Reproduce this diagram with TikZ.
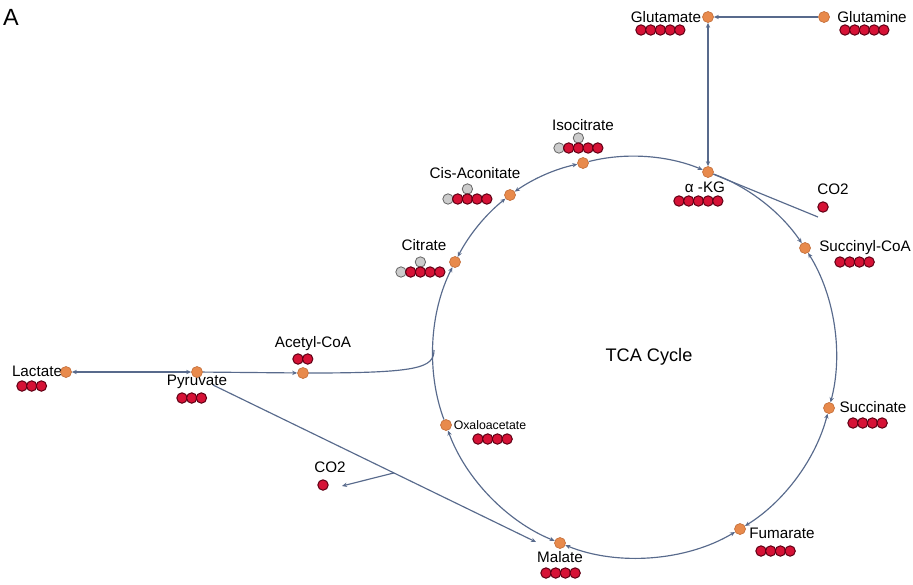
\documentclass[tikz,border=0pt]{standalone}
\usepackage{fontspec}
\setmainfont{Liberation Sans}
\usepackage{xcolor}
\usepackage{tikz}
\usetikzlibrary{arrows.meta,calc}

\definecolor{flow}{RGB}{88,106,140}
\definecolor{morange}{RGB}{232,138,76}
\definecolor{medge}{RGB}{196,112,60}
\definecolor{cred}{RGB}{214,18,54}
\definecolor{credge}{RGB}{95,0,20}
\definecolor{cgrey}{RGB}{204,204,204}
\definecolor{cgedge}{RGB}{105,105,105}

\tikzset{
  met/.style={circle, fill=morange, draw=medge, line width=0.2mm, inner sep=0pt, minimum size=3.3mm},
  lbl/.style={font=\fontsize{13}{15}\selectfont, inner sep=0pt},
  carbon/.style={fill=cred, draw=credge, line width=0.3mm},
  unlab/.style={fill=cgrey, draw=cgedge, line width=0.25mm},
  plain/.style={draw=flow, line width=0.35mm},
  rx/.style={plain, -{Stealth[length=1.5mm,width=1.3mm]}},
  rev/.style={plain, {Stealth[length=1.5mm,width=1.3mm]}-{Stealth[length=1.5mm,width=1.3mm]}},
  cyc/.style={bend left=#1, looseness=0.85}
}

% row of labelled carbons: first x, y, count
\newcommand{\carbons}[3]{\foreach \k in {1,...,#3}{\draw[carbon] (#1+\k*9.7-9.7,#2) circle[radius=5.2];}}

\begin{document}
\begin{tikzpicture}[x=0.3mm, y=0.3mm]
\useasboundingbox (0,0) rectangle (913,-584);

\node[font=\fontsize{20}{22}\selectfont, inner sep=0pt] (Panel) at (11,-17) {A};
\node[lbl, font=\fontsize{15.5}{18}\selectfont] (TCA) at (649,-357) {TCA Cycle};

% labels
\node[lbl] (tGlu) at (666,-17) {Glutamate};
\node[lbl] (tGln) at (872,-17) {Glutamine};
\node[lbl] (tAKG) at (705,-187) {α -KG};
\node[lbl] (tCO2a) at (833,-189) {CO2};
\node[lbl] (tSCoA) at (865,-248) {Succinyl-CoA};
\node[lbl] (tSuc) at (873,-407) {Succinate};
\node[lbl] (tFum) at (782,-533) {Fumarate};
\node[lbl] (tMal) at (560,-557) {Malate};
\node[lbl, font=\fontsize{10.5}{12}\selectfont] (tOAA) at (490,-425) {Oxaloacetate};
\node[lbl] (tCO2b) at (330,-467) {CO2};
\node[lbl] (tPyr) at (197,-382) {Pyruvate};
\node[lbl] (tLac) at (37,-371) {Lactate};
\node[lbl] (tAc) at (313,-344) {Acetyl-CoA};
\node[lbl] (tCit) at (424,-245) {Citrate};
\node[lbl] (tCis) at (475,-173) {Cis-Aconitate};
\node[lbl] (tIso) at (583,-125) {Isocitrate};

% metabolites
\node[met] (Glu) at (708,-17) {};
\node[met] (Gln) at (824,-17) {};
\node[met] (AKG) at (708,-172) {};
\node[met] (Iso) at (583,-163) {};
\node[met] (Cis) at (510,-195) {};
\node[met] (Cit) at (455,-262) {};
\node[met] (AcCoA) at (303,-373) {};
\node[met] (Pyr) at (197,-372) {};
\node[met] (Lac) at (66,-372) {};
\node[met] (OAA) at (446,-425) {};
\node[met] (Mal) at (560,-543) {};
\node[met] (Fum) at (740,-529) {};
\node[met] (Suc) at (829,-408) {};
\node[met] (SCoA) at (805,-248) {};

\coordinate (CO2a) at (818,-217);
\coordinate (AcJoin) at (434,-350);
\coordinate (PyrOut) at (213,-385);
\coordinate (MalTip) at (536,-542);
\coordinate (CO2fork) at ($(PyrOut)!0.56!(MalTip)$);
\coordinate (CO2b) at (342,-486);

% reactions
\draw[rx] (Gln) -- (Glu);
\draw[rev] (Glu) -- (AKG);
\draw[rx] (Iso) to[cyc=18.5] (AKG);
\draw[rx] (AKG) to[cyc=18] (SCoA);
\draw[plain] (AKG) -- (CO2a);
\draw[rev] (SCoA) to[cyc=23.5] (Suc);
\draw[rev] (Suc) to[cyc=22] (Fum);
\draw[rev] (Fum) to[cyc=26.5] (Mal);
\draw[rev] (Mal) to[cyc=24] (OAA);
\draw[rx] (OAA) to[cyc=23.7] (Cit);
\draw[rev] (Cit) to[cyc=12] (Cis);
\draw[rev] (Cis) to[cyc=11.5] (Iso);
\draw[rev] (Lac) -- (Pyr);
\draw[rx] (Pyr) -- (AcCoA);
\draw[plain] (AcCoA) .. controls (418,-373) and (434,-368) .. (AcJoin);
\draw[rx] (PyrOut) -- (MalTip);
\draw[rx] (CO2fork) -- (CO2b);

% carbon atoms
\carbons{641}{-30}{5}
\carbons{845}{-30}{5}
\carbons{679}{-201}{5}
\draw[carbon] (823,-207) circle[radius=5.2];
\carbons{840}{-262}{4}
\carbons{853}{-423}{4}
\carbons{761}{-551}{4}
\carbons{546}{-573}{4}
\carbons{478}{-439}{4}
\draw[carbon] (323,-485) circle[radius=5.2];
\carbons{182}{-398}{3}
\carbons{22}{-386}{3}
\carbons{298}{-359}{2}

\draw[unlab] (420.4,-262) circle[radius=5.2];
\draw[unlab] (401,-272) circle[radius=5.2];
\carbons{410.7}{-272}{4}
\draw[unlab] (467.4,-189) circle[radius=5.2];
\draw[unlab] (448,-199) circle[radius=5.2];
\carbons{457.7}{-199}{4}
\draw[unlab] (578.4,-138) circle[radius=5.2];
\draw[unlab] (559,-148) circle[radius=5.2];
\carbons{568.7}{-148}{4}
\end{tikzpicture}
\end{document}
